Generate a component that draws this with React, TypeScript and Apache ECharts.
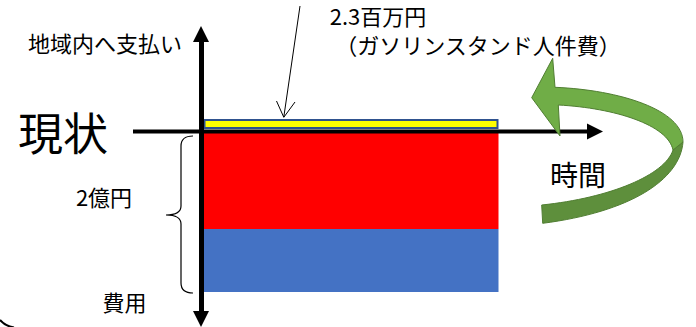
import React, { useEffect, useRef } from 'react';
import * as echarts from 'echarts';

// ---- data (schematic heights, 1 unit = 1 px) ----
const categories = ['現状'];
const gapAboveAxis = [2]; // clearance between the axis and the payment block
const paymentLocal = [10]; // 地域内へ支払い : 2.3百万円（ガソリンスタンド人件費）
const costUpper = [-98]; // 費用 (upper block)
const costLower = [-63]; // 費用 (lower block)

// ---- texts ----
const textStatus = '現状';
const textPay = '地域内へ支払い';
const textAmount = '2.3百万円';
const textDetail = '（ガソリンスタンド人件費）';
const textTime = '時間';
const textCostAmount = '2億円';
const textCost = '費用';

const FONT = '"Noto Sans CJK JP", "Noto Sans", sans-serif';

const BRACE_D =
  'M193,136 Q181,136 181,146 L181,206 Q181,215 166,215 Q181,215 181,224 L181,283 Q181,293 193,293';
const GREEN_UP_D =
  'M552.7,58.3 L531.7,97.7 L560,136 L558.3,105 C615,108 668,125 673,150 L683,142 C683,110 620,90 555,87.3 Z';
const GREEN_LOW_D =
  'M683,142 C680,180 630,212 542.7,223.3 L541.7,205 C610,198 665,175 673,150 Z';
const CORNER_D = 'M0,320 Q5,326 14,327.5';

echarts.graphic.registerShape('braceShape', echarts.graphic.extendPath(BRACE_D, {}));
echarts.graphic.registerShape('greenUp', echarts.graphic.extendPath(GREEN_UP_D, {}));
echarts.graphic.registerShape('greenLow', echarts.graphic.extendPath(GREEN_LOW_D, {}));
echarts.graphic.registerShape('cornerShape', echarts.graphic.extendPath(CORNER_D, {}));

function txt(text: string, x: number, y: number, size: number) {
  return {
    type: 'text',
    x,
    y,
    z: 120,
    style: {
      text,
      x: 0,
      y: 0,
      fill: '#000',
      font: `${size}px ${FONT}`,
      fontSize: size,
      fontFamily: FONT,
      textAlign: 'center',
      textVerticalAlign: 'middle',
      align: 'center',
      verticalAlign: 'middle',
    },
  };
}

export default function App() {
  const ref = useRef<HTMLDivElement>(null);
  useEffect(() => {
    if (!ref.current) return;
    const chart = echarts.init(ref.current, undefined, { renderer: 'svg' });
    chart.setOption({
      animation: false,
      backgroundColor: '#fff',
      grid: { left: 203.5, top: 34, width: 295, bottom: 8 },
      xAxis: { type: 'category', data: categories, show: false },
      yAxis: {
        type: 'value',
        min: -188,
        max: 97,
        offset: 2.5,
        z: 10,
        axisLine: {
          show: true,
          symbol: ['triangle', 'triangle'],
          symbolSize: [16, 16],
          lineStyle: { color: '#000', width: 5 },
        },
        axisTick: { show: false },
        axisLabel: { show: false },
        splitLine: { show: false },
      },
      series: [
        {
          type: 'bar',
          name: 'gap',
          stack: 's',
          data: gapAboveAxis,
          barWidth: '100%',
          itemStyle: { color: 'rgba(0,0,0,0)' },
          silent: true,
        },
        {
          type: 'bar',
          name: textPay,
          stack: 's',
          data: paymentLocal,
          barWidth: '100%',
          itemStyle: { color: '#FFFF00', borderColor: '#2F528F', borderWidth: 2 },
        },
        {
          type: 'bar',
          name: textCost,
          stack: 's',
          data: costUpper,
          barWidth: '100%',
          itemStyle: { color: '#FF0000' },
        },
        {
          type: 'bar',
          name: textCost + '2',
          stack: 's',
          data: costLower,
          barWidth: '100%',
          itemStyle: { color: '#4472C4' },
        },
      ],
      graphic: [
        // horizontal axis
        {
          type: 'line',
          z: 100,
          shape: { x1: 133, y1: 131.5, x2: 592, y2: 131.5 },
          style: { stroke: '#000', lineWidth: 4 },
        },
        {
          type: 'polygon',
          z: 100,
          shape: { points: [[587, 123.5], [603, 131.5], [587, 139.5]] },
          style: { fill: '#000' },
        },
        // thin pointer arrow
        {
          type: 'line',
          z: 100,
          shape: { x1: 300, y1: 6, x2: 283.8, y2: 117 },
          style: { stroke: '#000', lineWidth: 1 },
        },
        {
          type: 'polyline',
          z: 100,
          shape: { points: [[276.5, 101], [283.8, 117.3], [295, 102]] },
          style: { stroke: '#000', lineWidth: 1, fill: 'none' },
        },
        // brace
        {
          type: 'braceShape',
          x: 0,
          y: 0,
          z: 100,
          style: { stroke: '#000', lineWidth: 1.2, fill: 'none' },
        },
        // green curved arrow
        {
          type: 'greenLow',
          x: 0,
          y: 0,
          z: 100,
          style: { fill: '#5E8F3C', stroke: '#507E32', lineWidth: 1 },
        },
        {
          type: 'greenUp',
          x: 0,
          y: 0,
          z: 101,
          style: { fill: '#70AD47', stroke: '#507E32', lineWidth: 1 },
        },
        // rounded frame corner
        {
          type: 'cornerShape',
          x: 0,
          y: 0,
          z: 100,
          style: { stroke: '#000', lineWidth: 2, fill: 'none' },
        },
        txt(textPay, 105, 42, 22),
        txt(textStatus, 63, 131, 45),
        txt(textAmount, 378, 15, 22),
        txt(textDetail, 478, 44, 22),
        txt(textTime, 578, 174, 28),
        txt(textCostAmount, 104, 196, 22),
        txt(textCost, 124.5, 301, 22),
      ],
    });
    return () => chart.dispose();
  }, []);
  return (
    <div
      ref={ref}
      style={{ position: 'fixed', left: 0, top: 0, width: 696, height: 327 }}
    />
  );
}
